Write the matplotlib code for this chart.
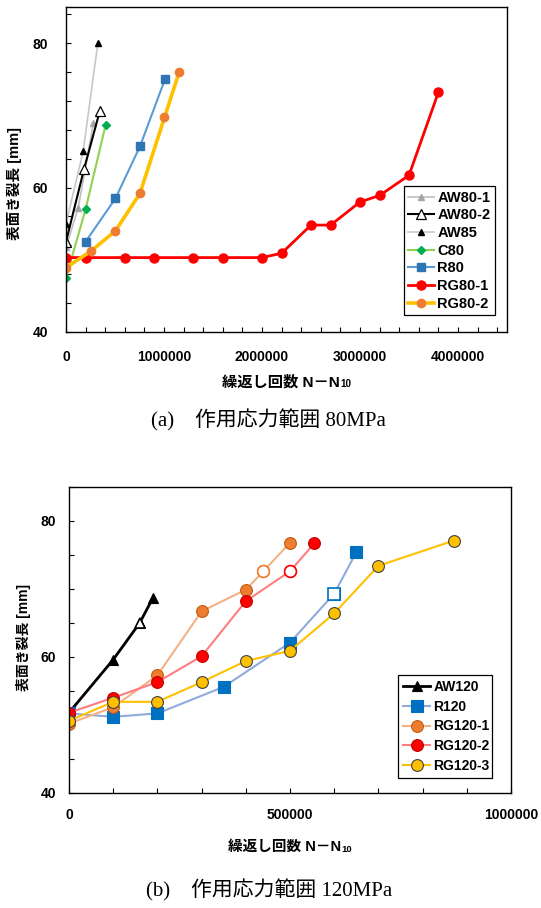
import matplotlib
matplotlib.use("Agg")
import matplotlib.pyplot as plt
from matplotlib.ticker import MultipleLocator, FuncFormatter

plt.rcParams["font.family"] = ["Liberation Sans", "Noto Sans CJK JP"]

# ---- (a) 80 MPa ----
aw80_1_n = [0, 125000, 280000]
aw80_1_a = [51.7, 57.2, 69.0]
aw80_2_n = [0, 185000, 345000]
aw80_2_a = [52.5, 62.6, 70.6]
aw85_n = [0, 175000, 325000]
aw85_a = [55.0, 65.0, 80.0]
c80_n = [0, 200000, 405000]
c80_a = [47.5, 57.0, 68.7]
r80_n = [200000, 505000, 755000, 1010000]
r80_a = [52.5, 58.5, 65.7, 75.0]
rg80_1_n = [0, 200000, 600000, 900000, 1300000, 1600000, 2000000, 2200000,
            2500000, 2700000, 3000000, 3200000, 3500000, 3800000]
rg80_1_a = [50.3, 50.3, 50.3, 50.3, 50.3, 50.3, 50.3, 50.9,
            54.8, 54.8, 58.0, 58.9, 61.7, 73.2]
rg80_2_n = [0, 255000, 505000, 755000, 1005000, 1155000]
rg80_2_a = [48.9, 51.2, 54.0, 59.2, 69.7, 76.0]

# ---- (b) 120 MPa ----
aw120_n = [0, 100000, 160000, 190000]
aw120_a = [51.8, 59.6, 65.0, 68.7]
aw120_open = [2]
r120_n = [0, 100000, 200000, 350000, 500000, 600000, 650000]
r120_a = [51.7, 51.2, 51.7, 55.6, 62.1, 69.3, 75.4]
r120_open = [5]
rg120_1_n = [0, 100000, 200000, 300000, 400000, 440000, 500000]
rg120_1_a = [50.2, 52.6, 57.3, 66.7, 69.9, 72.6, 76.8]
rg120_1_open = [5]
rg120_2_n = [0, 100000, 200000, 300000, 400000, 500000, 555000]
rg120_2_a = [51.8, 54.0, 56.3, 60.1, 68.2, 72.6, 76.7]
rg120_2_open = [5]
rg120_3_n = [0, 100000, 200000, 300000, 400000, 500000, 600000, 700000, 870000]
rg120_3_a = [50.6, 53.4, 53.4, 56.3, 59.4, 60.9, 66.4, 73.4, 77.1]

ylabel = "表面き裂長 [mm]"
xlabel_main = "繰返し回数 N－N"
xlabel_sub = "10"

fig = plt.figure(figsize=(5.41, 9.08), dpi=100)
plain = FuncFormatter(lambda v, p: f"{v:.0f}")


def style_axes(ax, xmaj, xmin, ymin_step, xpad, ypad, fs):
    ax.set_ylim(40, 85)
    ax.xaxis.set_major_locator(MultipleLocator(xmaj))
    ax.xaxis.set_minor_locator(MultipleLocator(xmin))
    ax.xaxis.set_major_formatter(plain)
    ax.yaxis.set_major_locator(MultipleLocator(20))
    ax.yaxis.set_minor_locator(MultipleLocator(ymin_step))
    ax.yaxis.set_major_formatter(plain)
    ax.tick_params(axis="both", which="both", direction="in", length=3.5,
                   width=0.8, top=False, right=False)
    ax.tick_params(axis="x", which="major", pad=xpad, labelsize=fs)
    ax.tick_params(axis="y", which="major", pad=ypad, labelsize=fs)
    for lab in ax.get_xticklabels() + ax.get_yticklabels():
        lab.set_fontweight("bold")
    for sp in ax.spines.values():
        sp.set_linewidth(1.0)
        sp.set_color("black")


# ---------------- top chart ----------------
ax1 = fig.add_axes([0.1220, 0.6344, 0.8152, 0.3579])
ax1.plot(aw80_1_n, aw80_1_a, color="#BFBFBF", lw=1.2, marker="^", ms=4.5,
         mfc="#A6A6A6", mec="#A6A6A6", label="AW80-1")
ax1.plot(aw80_2_n, aw80_2_a, color="black", lw=1.5, marker="^", ms=6.5,
         mfc="white", mec="black", mew=0.9, label="AW80-2")
ax1.plot(aw85_n, aw85_a, color="#C8C8C8", lw=1.2, marker="^", ms=5,
         mfc="black", mec="black", label="AW85")
ax1.plot(c80_n, c80_a, color="#92D050", lw=1.5, marker="D", ms=4.5,
         mfc="#00B050", mec="#00B050", label="C80")
ax1.plot(r80_n, r80_a, color="#5B9BD5", lw=1.5, marker="s", ms=6,
         mfc="#2E75B6", mec="#2E75B6", label="R80")
ax1.plot(rg80_1_n, rg80_1_a, color="#FF0000", lw=2.0, marker="o", ms=6.5,
         mfc="#FF0000", mec="#FF0000", label="RG80-1")
ax1.plot(rg80_2_n, rg80_2_a, color="#FFC000", lw=2.6, marker="o", ms=6,
         mfc="#ED7D31", mec="#ED7D31", label="RG80-2")
ax1.set_xlim(0, 4500000)
style_axes(ax1, 1000000, 200000, 4, 13, 13, 10)
ax1.set_ylabel(ylabel, fontsize=10.5, fontweight="bold")
ax1.yaxis.set_label_coords(-0.116, 0.458)
ax1.yaxis.label.set_va("center")
leg1 = ax1.legend(loc="lower left", bbox_to_anchor=(0.766, 0.052, 0.207, 0.385),
                  mode="expand", fancybox=False, edgecolor="black", framealpha=1,
                  prop={"weight": "bold", "size": 10.5}, handlelength=1.8,
                  handletextpad=0.2, labelspacing=0.25, borderpad=0.3,
                  borderaxespad=0)
leg1.get_frame().set_linewidth(0.9)

# ---------------- bottom chart ----------------
ax2 = fig.add_axes([0.1275, 0.1267, 0.8170, 0.3370])


def series(ax, n, a, open_idx, line, face, edge, marker, ms, label, lw=1.5):
    ax.plot(n, a, color=line, lw=lw, marker=marker, ms=ms, mfc=face, mec=edge,
            mew=0.8, label=label)
    for i in open_idx:
        ax.plot(n[i], a[i], marker=marker, ms=ms, mfc="white", mec=face,
                mew=1.2, ls="none")


series(ax2, aw120_n, aw120_a, aw120_open, "black", "black", "black", "^", 6.5,
       "AW120", lw=2.0)
series(ax2, r120_n, r120_a, r120_open, "#8FAADC", "#0070C0", "#0070C0", "s", 8,
       "R120")
series(ax2, rg120_1_n, rg120_1_a, rg120_1_open, "#F4B183", "#ED7D31", "#C55A11",
       "o", 8.5, "RG120-1")
series(ax2, rg120_2_n, rg120_2_a, rg120_2_open, "#FF7C80", "#FF0000", "#C00000",
       "o", 8.5, "RG120-2")
series(ax2, rg120_3_n, rg120_3_a, [], "#FFC000", "#FFC000", "#404040", "o", 8.5,
       "RG120-3")
ax2.set_xlim(0, 1000000)
style_axes(ax2, 500000, 100000, 5, 11, 9.5, 10)
ax2.set_ylabel(ylabel, fontsize=10, fontweight="bold")
ax2.yaxis.set_label_coords(-0.104, 0.507)
ax2.yaxis.label.set_va("center")
leg2 = ax2.legend(loc="lower left", bbox_to_anchor=(0.744, 0.049, 0.213, 0.343),
                  mode="expand", fancybox=False, edgecolor="black", framealpha=1,
                  prop={"weight": "bold", "size": 10}, handlelength=2.0,
                  handletextpad=0.2, labelspacing=0.42, borderpad=0.35,
                  borderaxespad=0)
leg2.get_frame().set_linewidth(0.9)


# x labels: main text plus a subscript "10" placed right after it
def x_label(ax, ycoord, fs):
    t = ax.text(0.5, ycoord, xlabel_main, transform=ax.transAxes, ha="center",
                va="center", fontsize=fs, fontweight="bold")
    fig.canvas.draw()
    bb = t.get_window_extent()
    sub = fig.text(bb.x1 / fig.bbox.width, (bb.y0 + 0.5) / fig.bbox.height,
                   xlabel_sub, ha="left", va="bottom", fontsize=fs * 0.65,
                   fontweight="bold")
    sb = sub.get_window_extent(fig.canvas.get_renderer())
    shift = sb.width / 2 / fig.bbox.width
    t.set_x(0.5 - shift / ax.get_position().width)
    sub.set_x(bb.x1 / fig.bbox.width - shift)


x_label(ax1, -0.154, 11)
x_label(ax2, -0.177, 10.5)

# captions
cap_family = ["Liberation Serif", "Noto Sans CJK JP"]
fig.text(0.497, 1 - 420 / 908, "(a)\u3000作用応力範囲 80MPa", ha="center",
         va="center", fontsize=15, family=cap_family)
fig.text(0.497, 1 - 890 / 908, "(b)\u3000作用応力範囲 120MPa", ha="center",
         va="center", fontsize=15, family=cap_family)

fig.savefig("out.png", dpi=100)
